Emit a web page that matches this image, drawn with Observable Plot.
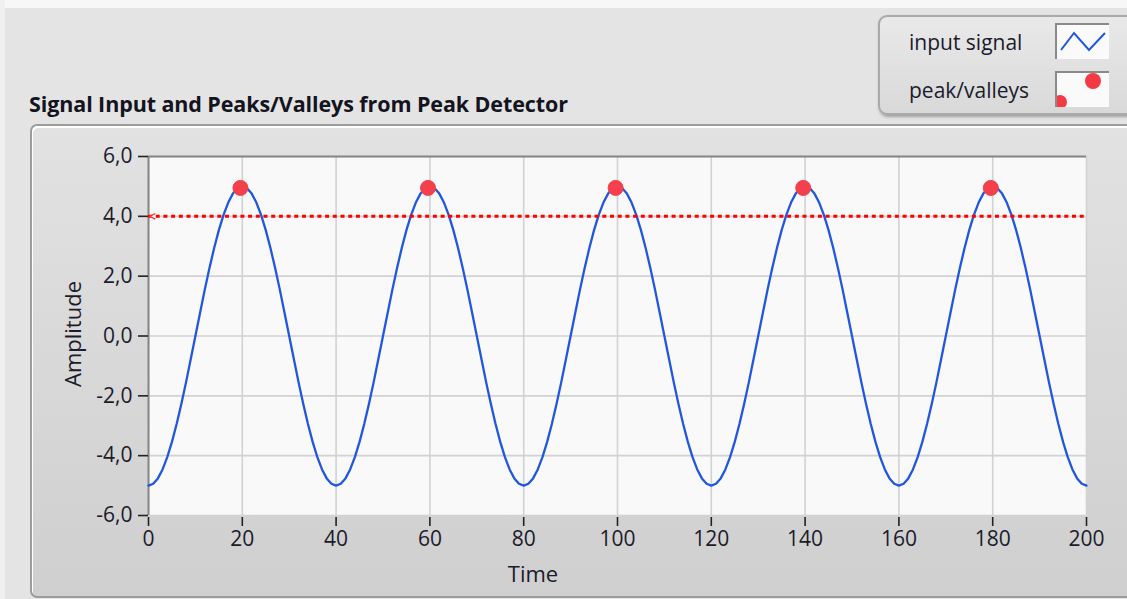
<!DOCTYPE html>
<html>
<head>
<meta charset="utf-8">
<script src="https://cdn.jsdelivr.net/npm/d3@7"></script>
<script src="https://cdn.jsdelivr.net/npm/@observablehq/plot@0.6"></script>
<style>
  html, body { margin: 0; padding: 0; }
  body { width: 1127px; height: 599px; overflow: hidden; background: #e4e4e4; font-family: "Open Sans", "Noto Sans", sans-serif; color: #1b1b2a; }
  #root { position: relative; width: 1127px; height: 599px; overflow: hidden; }
  #topstrip { position: absolute; left: 0; top: 0; width: 1127px; height: 8px; background: #f7f7f7; }
  #leftstrip { position: absolute; left: 0; top: 0; width: 5px; height: 599px; background: #f0f0f0; }
  #panel { position: absolute; left: 30px; top: 124px; width: 1120px; height: 470px; border: 2px solid #9c9c9c; border-radius: 7px; background: linear-gradient(#e2e2e2, #cfcfcf); box-shadow: inset 1px 2px 0 #ffffff; }
  #title { position: absolute; left: 29px; top: 89px; font-weight: 700; font-size: 21.5px; line-height: 30px; white-space: nowrap; color: #141420; letter-spacing: -0.1px; }
  #legend { position: absolute; left: 878px; top: 15px; width: 262px; height: 96px; border: 2px solid #a9a9a9; border-radius: 9px; background: linear-gradient(#e9e9e9, #d9d9d9); box-shadow: 1px 2px 3px rgba(0,0,0,0.3); }
  .leglab { position: absolute; left: 29px; font-size: 21px; line-height: 30px; white-space: nowrap; color: #1b1b2a; }
  .swatch { position: absolute; left: 175px; width: 54px; height: 36px; background: #fafafa; border-top: 2px solid #8a8a8a; border-left: 2px solid #8a8a8a; box-sizing: border-box; overflow: hidden; }
  #chart { position: absolute; left: 0; top: 0; }
  #xlabel { position: absolute; left: 533px; top: 558px; transform: translateX(-50%); font-size: 22px; line-height: 30px; }
  #ylabel { position: absolute; left: 72px; top: 334px; transform: translate(-50%, -50%) rotate(-90deg); font-size: 22px; line-height: 30px; white-space: nowrap; }
</style>
</head>
<body>
<div id="root">
  <div id="topstrip"></div>
  <div id="leftstrip"></div>
  <div id="panel"></div>
  <div id="title">Signal Input and Peaks/Valleys from Peak Detector</div>
  <div id="legend">
    <div class="leglab" style="top:10px">input signal</div>
    <div class="swatch" style="top:6px">
      <svg width="52" height="34"><polyline points="4,25 17,8 32,25 48,8" fill="none" stroke="#2157e0" stroke-width="2"/></svg>
    </div>
    <div class="leglab" style="top:58px">peak/valleys</div>
    <div class="swatch" style="top:54px">
      <svg width="52" height="34"><circle cx="36" cy="8" r="8" fill="#f43a44"/><circle cx="3" cy="29" r="7" fill="#f43a44"/></svg>
    </div>
  </div>
  <div id="chart"></div>
  <div id="xlabel">Time</div>
  <div id="ylabel">Amplitude</div>
</div>
<script>
// ---- data ----
const xDomain = [0, 200];
const yDomain = [-6, 6];
const xTicks = [0, 20, 40, 60, 80, 100, 120, 140, 160, 180, 200];
const yTicks = [-6, -4, -2, 0, 2, 4, 6];

const signalT0 = 0;
const signalDt = 1;
const signalValues = [
  -5.00, -4.94, -4.76, -4.46, -4.05, -3.54, -2.94, -2.27, -1.55, -0.78, 0.00, 0.78, 1.55, 2.27, 2.94, 3.54, 4.05, 4.46, 4.76, 4.94,
   5.00,  4.94,  4.76,  4.46,  4.05,  3.54,  2.94,  2.27,  1.55,  0.78, 0.00, -0.78, -1.55, -2.27, -2.94, -3.54, -4.05, -4.46, -4.76, -4.94,
  -5.00, -4.94, -4.76, -4.46, -4.05, -3.54, -2.94, -2.27, -1.55, -0.78, 0.00, 0.78, 1.55, 2.27, 2.94, 3.54, 4.05, 4.46, 4.76, 4.94,
   5.00,  4.94,  4.76,  4.46,  4.05,  3.54,  2.94,  2.27,  1.55,  0.78, 0.00, -0.78, -1.55, -2.27, -2.94, -3.54, -4.05, -4.46, -4.76, -4.94,
  -5.00, -4.94, -4.76, -4.46, -4.05, -3.54, -2.94, -2.27, -1.55, -0.78, 0.00, 0.78, 1.55, 2.27, 2.94, 3.54, 4.05, 4.46, 4.76, 4.94,
   5.00,  4.94,  4.76,  4.46,  4.05,  3.54,  2.94,  2.27,  1.55,  0.78, 0.00, -0.78, -1.55, -2.27, -2.94, -3.54, -4.05, -4.46, -4.76, -4.94,
  -5.00, -4.94, -4.76, -4.46, -4.05, -3.54, -2.94, -2.27, -1.55, -0.78, 0.00, 0.78, 1.55, 2.27, 2.94, 3.54, 4.05, 4.46, 4.76, 4.94,
   5.00,  4.94,  4.76,  4.46,  4.05,  3.54,  2.94,  2.27,  1.55,  0.78, 0.00, -0.78, -1.55, -2.27, -2.94, -3.54, -4.05, -4.46, -4.76, -4.94,
  -5.00, -4.94, -4.76, -4.46, -4.05, -3.54, -2.94, -2.27, -1.55, -0.78, 0.00, 0.78, 1.55, 2.27, 2.94, 3.54, 4.05, 4.46, 4.76, 4.94,
   5.00,  4.94,  4.76,  4.46,  4.05,  3.54,  2.94,  2.27,  1.55,  0.78, 0.00, -0.78, -1.55, -2.27, -2.94, -3.54, -4.05, -4.46, -4.76, -4.94,
  -5.00
];

// detected peaks
const peakTimes = [19.6, 59.6, 99.6, 139.6, 179.6];
const peakValues = [4.95, 4.95, 4.95, 4.95, 4.95];

// threshold
const thresholdValue = 4.0;

// ---- build tables ----
const signal = signalValues.map((v, i) => ({t: signalT0 + i * signalDt, v}));
const peaks = peakTimes.map((t, i) => ({t, v: peakValues[i]}));

const fmt = d => d.toFixed(1).replace(".", ",");

const leftChevron = {
  draw(ctx, size) {
    const r = Math.sqrt(size) / 2;
    ctx.moveTo(r, -r);
    ctx.lineTo(-r, 0);
    ctx.lineTo(r, r);
  }
};

const chart = Plot.plot({
  width: 1127,
  height: 599,
  marginLeft: 148,
  marginRight: 41,
  marginTop: 156,
  marginBottom: 84,
  style: {background: "transparent", fontFamily: "'Open Sans', 'Noto Sans', sans-serif", fontSize: "21px", color: "#1b1b2a", overflow: "visible"},
  x: {domain: xDomain},
  y: {domain: yDomain},
  marks: [
    Plot.frame({fill: "#f9f9f9", stroke: "none"}),
    Plot.gridX(xTicks, {stroke: "#d2d2d2", strokeOpacity: 1, strokeWidth: 1.6}),
    Plot.gridY(yTicks, {stroke: "#d2d2d2", strokeOpacity: 1, strokeWidth: 1.6}),
    Plot.ruleY([yDomain[1]], {stroke: "#858585", strokeWidth: 2}),
    Plot.ruleX([xDomain[0]], {stroke: "#858585", strokeWidth: 2}),
    Plot.line(signal, {x: "t", y: "v", stroke: "#2157e0", strokeWidth: 2.3}),
    Plot.ruleY([thresholdValue], {stroke: "#ff0000", strokeWidth: 3, strokeDasharray: "4,3.7", x1: xDomain[0], x2: xDomain[1]}),
    Plot.dot([thresholdValue], {x: () => xDomain[0], y: d => d, symbol: leftChevron, r: 3.2, stroke: "#ff3030", strokeWidth: 1.3, fill: "#f9f9f9", dx: 4}),
    Plot.dot(peaks, {x: "t", y: "v", r: 7.5, fill: "#f3404c", stroke: "#f3404c", strokeWidth: 1}),
    Plot.axisY({ticks: yTicks, tickFormat: fmt, tickSize: 10, tickPadding: 6, label: null, stroke: "#222", strokeWidth: 1.6}),
    Plot.axisX({ticks: xTicks, tickFormat: d => String(d), tickSize: 9, tickPadding: 5, dy: 2, label: null, stroke: "#222", strokeWidth: 1.6})
  ]
});
document.getElementById("chart").appendChild(chart);
</script>
</body>
</html>
